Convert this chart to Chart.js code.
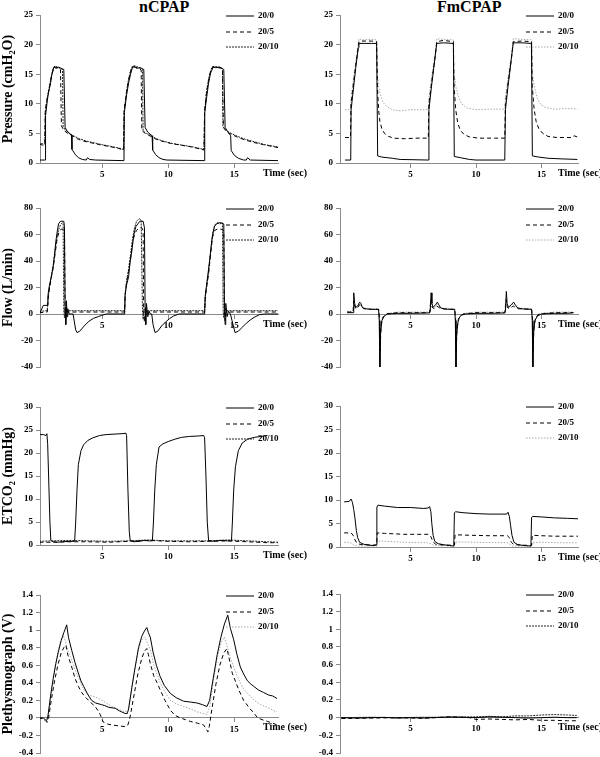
<!DOCTYPE html>
<html>
<head>
<meta charset="utf-8">
<script src="https://cdn.jsdelivr.net/npm/chart.js@4.4.1/dist/chart.umd.min.js"></script>
<style>
  body { margin: 0; background: #fff; width: 600px; height: 757px; overflow: hidden; position: relative; font-family: "Liberation Serif", serif; }
  canvas { position: absolute; }
  .ttl { position: absolute; top: -2px; font-weight: bold; font-size: 16px; }
</style>
</head>
<body>
<div class="ttl" style="left:139px">nCPAP</div>
<div class="ttl" style="left:437px">FmCPAP</div>
<canvas id="pressN"></canvas>
<canvas id="pressF"></canvas>
<canvas id="flowN"></canvas>
<canvas id="flowF"></canvas>
<canvas id="co2N"></canvas>
<canvas id="co2F"></canvas>
<canvas id="plethN"></canvas>
<canvas id="plethF"></canvas>
<script>
// series labels and tick values
const seriesLabels = ['20/0', '20/5', '20/10'];
const timeTicks = [5, 10, 15];
const pressureTicks = [0, 5, 10, 15, 20, 25];
const flowTicks = [-40, -20, 0, 20, 40, 60, 80];
const co2Ticks = [0, 5, 10, 15, 20, 25, 30];
const plethTicks = [-0.4, -0.2, 0, 0.2, 0.4, 0.6, 0.8, 1, 1.2, 1.4];

// [time (sec), value]
const pressN_0 = [[0.2,0.5],[0.68,0.5],[0.72,8],[0.85,10.5],[0.95,12],[1.1,13.5],[1.2,15],[1.35,16.2],[1.5,16],[1.7,16.2],[1.9,16],[2.1,15.8],[2.2,6],[2.35,5.4],[2.5,5],[2.68,4.7],[2.72,2.3],[2.95,1.5],[3.2,0.9],[3.5,0.6],[3.8,0.5],[3.9,0.9],[4.05,0.6],[4.5,0.5],[6.65,0.4],[6.68,8.5],[6.85,11.5],[7.0,13.5],[7.15,15],[7.3,16.2],[7.45,16.3],[7.6,16],[7.9,16.1],[8.15,15.8],[8.25,6],[8.45,5.2],[8.78,4.6],[8.82,2.2],[9.05,1.4],[9.3,0.9],[9.6,0.6],[9.9,0.5],[12.73,0.4],[12.76,8.5],[12.9,11],[13.05,13.5],[13.2,15.2],[13.4,16.2],[13.6,16.1],[13.9,16.2],[14.2,15.8],[14.3,6],[14.5,5.3],[14.72,4.6],[14.76,2.1],[15.0,1.3],[15.3,0.8],[15.7,0.5],[15.9,0.5],[16.0,0.9],[16.2,0.5],[18.3,0.4]];
const pressN_5 = [[0.2,2],[0.28,3.2],[0.5,3],[0.66,3.1],[0.7,9],[0.85,11],[1.0,12.5],[1.15,14.5],[1.3,15.8],[1.4,16.3],[1.6,16],[1.85,15.8],[1.92,6.3],[2.1,5.5],[2.4,5],[2.8,4.5],[3.2,4],[3.6,3.7],[4.2,3.4],[4.8,3.1],[5.5,2.8],[6.2,2.5],[6.62,2.2],[6.66,9],[6.85,12],[7.0,14],[7.15,15.5],[7.3,16.2],[7.5,16.2],[7.8,16],[7.95,15.7],[8.0,5.5],[8.25,5],[8.6,4.6],[9.0,4.1],[9.5,3.7],[10.2,3.3],[11.0,3],[11.8,2.7],[12.7,2.2],[12.75,9],[12.9,12],[13.05,14],[13.2,15.5],[13.35,16.2],[13.6,16.2],[14.0,16],[14.1,15.7],[14.17,6],[14.4,5.3],[14.8,4.8],[15.3,4.3],[15.8,3.9],[16.4,3.5],[17.2,3.1],[18.3,2.6]];
const pressN_10 = [[0.2,2.5],[0.3,3.3],[0.66,3.2],[0.7,8.5],[0.85,11],[1.0,12.8],[1.15,14.6],[1.3,16],[1.45,16.4],[1.7,16.1],[2.0,15.8],[2.05,6.2],[2.2,5.6],[2.5,5.1],[2.9,4.5],[3.3,4.1],[3.8,3.7],[4.4,3.4],[5.0,3.1],[5.7,2.8],[6.3,2.5],[6.62,2.3],[6.66,8.5],[6.85,12.2],[7.0,14.2],[7.15,15.6],[7.3,16.4],[7.5,16.4],[7.8,16.1],[8.05,15.8],[8.1,5.4],[8.35,5],[8.7,4.6],[9.1,4.1],[9.6,3.7],[10.3,3.3],[11.1,3],[11.9,2.7],[12.7,2.3],[12.75,8.5],[12.9,12.2],[13.05,14.2],[13.2,15.6],[13.35,16.3],[13.6,16.3],[14.0,16.1],[14.1,15.8],[14.14,6.2],[14.4,5.4],[14.85,4.9],[15.35,4.4],[15.85,4],[16.5,3.6],[17.3,3.1],[18.3,2.7]];

const pressF_0 = [[-0.02,0.5],[0.42,0.5],[0.45,9],[0.6,12],[0.8,16],[1.0,19.5],[1.05,20.2],[1.5,20.2],[2.0,20.2],[2.4,20.2],[2.48,1.2],[2.8,1],[3.2,0.9],[3.6,0.8],[4.2,0.6],[6.36,0.5],[6.4,9],[6.6,13],[6.85,17.5],[7.0,20.2],[7.5,20.3],[8.27,20.2],[8.34,1.1],[8.8,0.9],[9.5,0.6],[10.0,0.5],[12.2,0.5],[12.25,9],[12.45,13],[12.7,17.5],[12.85,20.3],[13.5,20.3],[14.24,20.2],[14.31,1.2],[14.8,1],[15.5,0.8],[16.5,0.7],[17.75,0.6]];
const pressF_5 = [[-0.02,4.3],[0.4,4.3],[0.44,10],[0.6,13],[0.8,16.5],[1.05,20.5],[1.2,20.6],[2.0,20.6],[2.4,20.5],[2.46,13],[2.55,9],[2.65,7],[2.8,5.8],[3.0,5],[3.3,4.5],[3.7,4.2],[4.5,4.1],[5.5,4.2],[6.35,4.2],[6.4,10],[6.6,13.5],[6.85,17.5],[7.0,20.5],[7.5,20.7],[8.27,20.5],[8.32,13],[8.45,9],[8.6,6.8],[8.8,5.5],[9.1,4.8],[9.5,4.4],[10.2,4.2],[11.5,4.2],[12.2,4.2],[12.25,10],[12.45,13.5],[12.7,17.5],[12.85,20.5],[13.5,20.6],[14.25,20.5],[14.3,13],[14.45,9],[14.6,7],[14.8,5.8],[15.1,5],[15.5,4.5],[16.2,4.3],[17.3,4.3],[17.5,4.6],[17.75,4.4]];
const pressF_10 = [[-0.02,9],[0.4,9],[0.45,11],[0.62,14],[0.8,17],[1.05,21],[1.3,20.8],[2.0,20.9],[2.4,20.8],[2.46,15],[2.55,13],[2.7,11.5],[2.9,10.2],[3.2,9.5],[3.6,9],[4.2,8.8],[5.0,9],[6.35,9],[6.4,11],[6.6,14.5],[6.85,18],[7.0,21],[7.5,20.9],[8.27,20.8],[8.32,15.5],[8.45,13],[8.65,11.2],[8.9,10],[9.3,9.3],[10,9],[11,9.1],[12.2,9.1],[12.25,11],[12.45,14.5],[12.7,18],[12.85,21],[13.5,20.9],[14.25,20.8],[14.3,15.5],[14.45,13],[14.65,11.2],[14.9,10],[15.3,9.4],[16,9.1],[17,9.2],[17.75,9.1]];

const flowN_0 = [[0.25,0],[0.4,3],[0.55,6.5],[0.85,6.5],[0.9,14],[1.0,21],[1.15,28],[1.3,36],[1.4,45],[1.5,55],[1.6,62],[1.7,68],[1.85,70],[2.1,70],[2.15,66],[2.2,5],[2.25,-8],[2.3,10],[2.35,-2],[2.4,4],[2.5,0],[2.8,0],[2.9,-6],[3.0,-12],[3.1,-14],[3.3,-13],[3.71,-8.3],[4.0,-5.5],[4.34,-3.3],[4.7,-2],[4.97,-1],[5.3,0],[6.7,0],[6.74,15],[6.85,22],[7.0,28],[7.1,38],[7.25,48],[7.4,60],[7.55,66],[7.7,68],[7.85,70],[8.1,70],[8.2,65],[8.25,5],[8.3,-8],[8.35,8],[8.45,-2],[8.55,2],[8.65,0],[8.75,0],[8.85,-8],[9.0,-14],[9.2,-13],[9.5,-9],[9.8,-6],[10.1,-3.5],[10.4,-1.5],[10.8,0],[12.75,0],[12.8,14],[12.9,22],[13.0,30],[13.15,42],[13.3,56],[13.4,62],[13.5,66],[13.65,68],[13.9,69],[14.2,68],[14.25,5],[14.3,-8],[14.35,8],[14.45,-2],[14.55,2],[14.7,0],[14.85,-6],[15.05,-14],[15.3,-13],[15.6,-10],[15.9,-7],[16.2,-4.5],[16.5,-2.5],[16.9,-0.5],[17.3,0],[18.3,0]];
const flowN_5 = [[0.25,1],[0.85,1.5],[0.9,10],[1.0,18],[1.15,27],[1.3,35],[1.45,46],[1.6,57],[1.75,62],[1.9,64],[2.15,64],[2.2,2],[2.25,-5],[2.3,5],[2.4,1.5],[6.7,1.5],[6.74,14],[6.85,24],[7.0,32],[7.15,42],[7.3,54],[7.45,60],[7.6,63],[7.8,65],[8.0,65],[8.1,63],[8.14,2],[8.2,-6],[8.27,4],[8.35,1.5],[12.75,1.5],[12.8,12],[12.9,20],[13.05,30],[13.2,45],[13.35,58],[13.5,63],[13.7,64],[14.0,64],[14.2,63],[14.24,2],[14.3,-5],[14.35,4],[14.45,1.5],[18.3,1.5]];
const flowN_10 = [[0.25,2],[0.85,2.5],[0.9,11],[1.0,19],[1.15,28],[1.3,37],[1.45,48],[1.6,59],[1.75,65],[1.9,68],[2.0,69],[2.05,68],[2.1,2.5],[2.15,-3],[2.2,5],[2.3,2.5],[6.7,2.5],[6.74,15],[6.85,25],[7.0,34],[7.15,45],[7.3,57],[7.45,65],[7.6,70],[7.8,72],[7.95,71],[8.05,2.5],[8.1,-4],[8.17,4],[8.25,2.5],[12.75,2.5],[12.8,13],[12.9,21],[13.05,32],[13.2,47],[13.35,60],[13.5,67],[13.7,69],[13.9,68],[14.1,69],[14.15,2.5],[14.2,-3],[14.25,4],[14.35,2.5],[18.3,2.5]];

const flowF_0 = [[0.15,1],[0.6,1],[0.65,16],[0.72,8],[0.8,5],[0.95,6],[1.1,9],[1.2,8],[1.3,5],[1.5,4],[2.0,3.5],[2.55,3.5],[2.6,-5],[2.65,-40],[2.7,-15],[2.8,-5],[2.95,-2],[3.2,0],[4.0,0.5],[5.0,0.5],[6.45,0.8],[6.5,2],[6.57,16],[6.63,8],[6.72,5],[6.9,7],[7.05,9],[7.15,7],[7.3,4.5],[7.6,3.8],[8.0,3.5],[8.37,3.5],[8.42,-5],[8.47,-40],[8.52,-15],[8.65,-4],[8.85,-1],[9.2,0],[10,0.5],[11,0.5],[12.2,0.8],[12.25,2],[12.32,17],[12.38,8],[12.48,5],[12.7,7],[12.88,9],[13.0,7],[13.2,4.5],[13.6,3.8],[14.25,3.5],[14.3,-5],[14.35,-40],[14.4,-15],[14.5,-5],[14.7,-1.5],[15.0,0],[16,0.5],[17,0.5],[17.45,1]];
const flowF_5 = [[0.15,1.5],[0.6,1.5],[0.65,10],[0.75,5],[0.9,4],[1.1,7],[1.25,6],[1.4,4],[2.0,3.5],[2.55,3.5],[2.62,-3],[2.67,-28],[2.73,-10],[2.85,-3],[3.1,0],[4,1],[5,1],[6.45,1],[6.55,11],[6.65,5],[6.8,4],[7.0,6],[7.15,5],[7.35,4],[8.0,3.5],[8.37,3.5],[8.44,-3],[8.49,-28],[8.55,-10],[8.7,-3],[9.0,0],[10,1],[12.2,1],[12.3,11],[12.4,5],[12.55,4],[12.85,6],[13.0,5],[13.2,4],[14.25,3.5],[14.32,-3],[14.37,-28],[14.43,-10],[14.55,-3],[14.8,0],[16,1],[17.45,1]];
const flowF_10 = [[0.15,2],[0.6,2],[0.65,8],[0.75,4],[0.95,5],[1.15,8],[1.3,6],[1.5,4.5],[2.0,4],[2.55,4],[2.62,-2],[2.68,-22],[2.75,-8],[2.9,-2],[3.2,0.5],[4,1.5],[5,1.5],[6.45,1.5],[6.55,9],[6.65,5],[6.85,5],[7.05,8],[7.2,6],[7.4,4.5],[8.37,4],[8.44,-2],[8.5,-22],[8.57,-8],[8.75,-2],[9.1,0.5],[10,1.5],[12.2,1.5],[12.3,9],[12.4,5],[12.6,5],[12.85,8],[13.0,6],[13.2,4.5],[14.25,4],[14.32,-2],[14.38,-22],[14.45,-8],[14.6,-2],[14.9,0.5],[16,1.5],[17.45,1.5]];

const co2N_0 = [[0.25,24],[0.55,24],[0.75,23.8],[0.82,24.2],[0.88,22],[0.95,15],[1.05,5],[1.12,1],[1.3,0.7],[1.6,0.6],[2.0,0.7],[2.5,0.8],[2.92,0.8],[3.0,5],[3.1,12],[3.2,17.5],[3.4,20.5],[3.6,21.8],[3.9,22.7],[4.3,23.3],[4.8,23.8],[5.3,24],[5.9,24.1],[6.5,24.2],[6.8,24.3],[6.85,23.8],[6.95,12],[7.05,3],[7.12,1],[7.4,0.7],[7.8,0.8],[8.2,1],[8.5,0.9],[8.8,0.9],[8.88,5],[8.98,12],[9.1,17.5],[9.3,21.3],[9.6,22],[10.0,22.5],[10.5,23],[11.0,23.4],[11.6,23.6],[12.3,23.7],[12.68,23.8],[12.75,23.3],[12.85,15],[12.95,5],[13.05,1],[13.4,0.8],[14.0,1],[14.5,0.9],[14.78,0.9],[14.85,5],[14.95,12],[15.08,17],[15.3,20.5],[15.6,22.2],[16.0,23],[16.5,23.4],[17.0,23.6],[17.5,23.8]];
const co2N_5 = [[0.25,0.6],[1.2,0.6],[2.5,0.7],[4.0,0.7],[5.5,0.6],[7,0.8],[8.5,1],[10,0.8],[11.5,0.7],[13,0.8],[14.5,0.9],[16,0.7],[17.5,0.5],[18.3,0.5]];
const co2N_10 = [[0.25,0.8],[1.2,0.9],[2.5,1.0],[4,0.9],[5.5,0.8],[7,0.9],[8.5,1.1],[10,0.9],[11.5,0.9],[13,0.9],[14.5,1.1],[16,0.9],[17.5,0.7],[18.3,0.6]];

const co2F_0 = [[-0.08,9.6],[0.3,9.7],[0.45,10.2],[0.55,9.5],[0.65,8],[0.75,6],[0.85,3.5],[0.95,2],[1.1,1],[1.4,0.6],[1.8,0.4],[2.2,0.3],[2.38,0.5],[2.42,8.5],[2.5,8.9],[3.0,8.7],[4.0,8.4],[5.0,8.4],[6.0,8.2],[6.35,8.3],[6.45,8.6],[6.55,7.5],[6.62,5],[6.72,2.5],[6.85,1.2],[7.1,0.7],[7.5,0.5],[8.0,0.3],[8.3,0.2],[8.35,7.3],[8.45,7.5],[9.0,7.3],[10,7.1],[11,7.0],[12.0,7.0],[12.35,7.0],[12.45,7.4],[12.55,6.5],[12.65,4.5],[12.75,2.5],[12.9,1],[13.2,0.5],[13.7,0.3],[14.2,0.2],[14.25,6.3],[14.35,6.5],[15,6.4],[16,6.2],[17,6.1],[17.8,6.0]];
const co2F_5 = [[-0.08,3],[0.45,3],[0.6,2.5],[0.75,1.5],[0.9,0.8],[1.2,0.5],[2.4,0.4],[2.45,3],[3,2.9],[4.5,2.7],[6.4,2.7],[6.55,2.2],[6.7,1.2],[6.9,0.6],[7.5,0.4],[8.35,0.4],[8.4,2.6],[9.5,2.5],[11,2.4],[12.4,2.4],[12.55,2],[12.7,1],[12.9,0.5],[14.25,0.3],[14.3,2.5],[15,2.4],[16,2.3],[17.8,2.3]];
const co2F_10 = [[-0.08,1],[0.35,1],[0.5,0.7],[0.7,0.3],[1.0,0.2],[2.4,0.2],[2.45,1.0],[2.7,1.3],[3.2,1.2],[4.5,1.0],[6.3,0.9],[6.6,0.6],[6.8,0.3],[8.35,0.2],[8.4,1.0],[8.7,1.1],[10,1.0],[12.4,0.9],[12.6,0.6],[12.8,0.2],[14.25,0.2],[14.3,0.9],[15,1.0],[16.5,0.9],[17.8,0.9]];

const plethN_0 = [[0.18,0],[0.55,0],[0.7,-0.02],[0.8,-0.03],[0.9,0.02],[1.1,0.25],[1.3,0.45],[1.5,0.62],[1.7,0.76],[1.9,0.88],[2.1,0.97],[2.32,1.06],[2.45,0.92],[2.7,0.77],[2.95,0.63],[3.2,0.51],[3.4,0.42],[3.6,0.36],[3.9,0.27],[4.2,0.2],[4.5,0.17],[4.97,0.15],[5.2,0.14],[5.5,0.12],[5.98,0.11],[6.3,0.08],[6.74,0.05],[6.9,0.05],[7.0,0.1],[7.25,0.35],[7.5,0.58],[7.75,0.8],[8.0,0.93],[8.2,0.99],[8.38,1.03],[8.5,0.97],[8.64,0.92],[8.85,0.75],[9.1,0.6],[9.39,0.47],[9.7,0.37],[10.15,0.28],[10.6,0.23],[11.16,0.19],[11.7,0.18],[12.17,0.17],[12.6,0.15],[12.93,0.13],[13.13,0.2],[13.4,0.45],[13.7,0.72],[14.0,0.93],[14.25,1.07],[14.5,1.17],[14.7,1.02],[14.95,0.89],[15.2,0.72],[15.45,0.58],[15.7,0.5],[15.96,0.43],[16.2,0.39],[16.46,0.36],[16.8,0.32],[17.2,0.29],[17.6,0.26],[17.9,0.25],[18.23,0.22]];
const plethN_5 = [[0.18,0],[0.55,-0.01],[0.75,-0.04],[0.85,-0.05],[0.95,0],[1.15,0.2],[1.4,0.42],[1.65,0.6],[1.9,0.74],[2.1,0.8],[2.26,0.83],[2.4,0.72],[2.7,0.58],[2.95,0.45],[3.2,0.36],[3.45,0.29],[3.71,0.24],[4.1,0.18],[4.47,0.13],[4.7,0.08],[4.85,0.04],[5.0,-0.02],[5.1,-0.05],[5.4,-0.07],[5.73,-0.08],[6.2,-0.09],[6.74,-0.1],[6.95,-0.08],[7.1,0.0],[7.4,0.25],[7.7,0.5],[8.0,0.68],[8.2,0.76],[8.38,0.79],[8.5,0.72],[8.64,0.62],[8.9,0.48],[9.15,0.4],[9.39,0.32],[9.75,0.2],[10.15,0.09],[10.5,0.03],[10.9,0],[11.3,-0.02],[11.66,-0.04],[12.2,-0.06],[12.67,-0.08],[12.85,-0.12],[13.0,-0.16],[13.1,-0.1],[13.3,0.1],[13.6,0.38],[13.9,0.6],[14.2,0.74],[14.44,0.79],[14.6,0.68],[14.84,0.51],[15.1,0.41],[15.33,0.32],[15.7,0.2],[16.1,0.12],[16.5,0.05],[16.76,0],[17.1,-0.02],[17.5,-0.04],[17.9,-0.06],[18.23,-0.08]];
const plethN_10 = [[0.18,0],[0.55,0],[0.75,-0.03],[0.85,-0.04],[0.95,0.05],[1.15,0.3],[1.4,0.55],[1.65,0.75],[1.85,0.88],[2.07,0.94],[2.2,0.88],[2.45,0.75],[2.7,0.66],[2.95,0.55],[3.2,0.46],[3.45,0.37],[3.71,0.3],[4.0,0.26],[4.47,0.24],[4.97,0.2],[5.3,0.17],[5.73,0.13],[6.2,0.1],[6.74,0.07],[6.95,0.08],[7.1,0.2],[7.4,0.5],[7.7,0.74],[7.95,0.88],[8.2,0.92],[8.35,0.88],[8.64,0.78],[8.9,0.6],[9.39,0.4],[9.8,0.28],[10.15,0.2],[10.6,0.16],[11.16,0.13],[11.7,0.1],[12.17,0.07],[12.6,0.05],[12.93,0.04],[13.13,0.12],[13.4,0.4],[13.7,0.68],[14.0,0.86],[14.24,0.92],[14.45,0.82],[14.7,0.68],[14.95,0.58],[15.2,0.48],[15.45,0.4],[15.7,0.33],[16.1,0.26],[16.5,0.2],[17.0,0.15],[17.5,0.12],[18.0,0.08],[18.23,0.07]];

const plethF_0 = [[-0.3,0],[1,-0.005],[2,0],[3,0.003],[4,-0.005],[5,0],[6,-0.004],[7,0.002],[8,0.008],[9,0.005],[10,0],[11,0.01],[12,0.005],[13,0],[14,-0.005],[15,0],[16,0.005],[17,0],[17.7,0]];
const plethF_5 = [[-0.3,-0.01],[2,-0.005],[4,0],[6,-0.008],[8,0.01],[9.5,0],[10,-0.02],[11,-0.015],[12,-0.02],[13,-0.025],[14,-0.02],[15,-0.03],[16,-0.03],[17,-0.035],[17.7,-0.035]];
const plethF_10 = [[-0.3,0],[2,0.005],[4,0],[6,0.005],[8,0.005],[10,0.01],[11,0.015],[12,0.01],[13,0.02],[14,0.02],[15,0.03],[16,0.035],[17,0.03],[17.7,0.025]];

const FONT = '"Liberation Serif", "Times New Roman", serif';
const AXIS_GRAY = '#8a8a8a';
const DARK_DOT = { color: '#222', dash: [2, 1] };
const LIGHT_DOT = { color: '#a8a8a8', dash: [1.5, 1.5] };

const cornerLegend = {
  id: 'cornerLegend',
  afterDraw(chart, args, opts) {
    const { ctx, chartArea } = chart;
    ctx.save();
    ctx.textBaseline = 'middle';
    ctx.font = 'bold 9px ' + FONT;
    chart.data.datasets.forEach((ds, i) => {
      const y = chartArea.top + 1 + [0, 16, 31][i];
      ctx.strokeStyle = ds.borderColor;
      ctx.lineWidth = 1;
      ctx.setLineDash(ds.borderDash || []);
      ctx.beginPath();
      ctx.moveTo(chartArea.right - 52, y);
      ctx.lineTo(chartArea.right - 24, y);
      ctx.stroke();
      ctx.fillStyle = '#000';
      ctx.fillText(ds.label, chartArea.right - 20, y);
    });
    const y0 = chart.scales.y.getPixelForValue(0);
    ctx.font = 'bold 10px ' + FONT;
    ctx.fillText('Time (sec)', chartArea.right - opts.timeOffset, y0 + 10);
    ctx.restore();
  }
};

function makeChart(id, box, cfg) {
  const el = document.getElementById(id);
  el.width = box.w; el.height = box.h;
  el.style.left = box.left + 'px'; el.style.top = box.top + 'px';
  const styles = [{ color: '#000', dash: [] }, { color: '#000', dash: [4, 3] }, cfg.dot];
  const datasets = cfg.series.map((pts, i) => ({
    label: seriesLabels[i],
    data: pts.map(([x, y]) => ({ x, y })),
    borderColor: styles[i].color,
    borderDash: styles[i].dash,
    borderWidth: 1,
    pointRadius: 0,
    tension: 0
  }));
  const tickFont = { family: FONT, size: 9, weight: 'bold' };
  return new Chart(el, {
    type: 'line',
    data: { datasets },
    plugins: [cornerLegend],
    options: {
      responsive: false,
      animation: false,
      layout: { padding: { top: 10, bottom: 25, left: 0, right: box.padR } },
      plugins: { legend: { display: false }, tooltip: { enabled: false }, cornerLegend: { timeOffset: box.timeOffset } },
      scales: {
        x: {
          type: 'linear', min: cfg.xMin, max: cfg.xMax, position: { y: 0 },
          afterBuildTicks: s => { s.ticks = timeTicks.map(v => ({ value: v })); },
          grid: { drawOnChartArea: false, tickLength: 4, color: AXIS_GRAY },
          border: { color: AXIS_GRAY },
          ticks: { font: tickFont, color: '#000', padding: 2, maxRotation: 0, autoSkip: false, callback: v => String(v) }
        },
        y: {
          min: cfg.ticks[0], max: cfg.ticks[cfg.ticks.length - 1],
          afterBuildTicks: s => { s.ticks = cfg.ticks.map(v => ({ value: v })); },
          afterFit: s => { s.width = 40; },
          grid: { drawOnChartArea: false, tickLength: 4, color: AXIS_GRAY },
          border: { color: AXIS_GRAY },
          ticks: { font: tickFont, color: '#000', padding: 3, autoSkip: false, callback: v => String(v) },
          title: { display: !!cfg.yTitle, text: cfg.yTitle, color: '#000', padding: 0, font: { family: FONT, size: 14, weight: 'bold' } }
        }
      }
    }
  });
}

const LEFT = { left: 0, w: 330, padR: 52, timeOffset: 15 };
const RIGHT = { left: 300, w: 300, padR: 22, timeOffset: 20 };
const N_RANGE = { xMin: 0.3, xMax: 18.3 };
const F_RANGE = { xMin: -0.4, xMax: 17.8 };

makeChart('pressN', { ...LEFT, top: 5, h: 183 }, { ...N_RANGE, ticks: pressureTicks, yTitle: 'Pressure (cmH₂O)', series: [pressN_0, pressN_5, pressN_10], dot: DARK_DOT });
makeChart('pressF', { ...RIGHT, top: 5, h: 183 }, { ...F_RANGE, ticks: pressureTicks, yTitle: '', series: [pressF_0, pressF_5, pressF_10], dot: LIGHT_DOT });
makeChart('flowN', { ...LEFT, top: 198, h: 194 }, { ...N_RANGE, ticks: flowTicks, yTitle: 'Flow (L/min)', series: [flowN_0, flowN_5, flowN_10], dot: DARK_DOT });
makeChart('flowF', { ...RIGHT, top: 198, h: 194 }, { ...F_RANGE, ticks: flowTicks, yTitle: '', series: [flowF_0, flowF_5, flowF_10], dot: LIGHT_DOT });
makeChart('co2N', { ...LEFT, top: 397, h: 173 }, { ...N_RANGE, ticks: co2Ticks, yTitle: 'ETCO₂ (mmHg)', series: [co2N_0, co2N_5, co2N_10], dot: DARK_DOT });
makeChart('co2F', { ...RIGHT, top: 396, h: 176 }, { ...F_RANGE, ticks: co2Ticks, yTitle: '', series: [co2F_0, co2F_5, co2F_10], dot: LIGHT_DOT });
makeChart('plethN', { ...LEFT, top: 585, h: 193 }, { ...N_RANGE, ticks: plethTicks, yTitle: 'Plethysmograph (V)', series: [plethN_0, plethN_5, plethN_10], dot: LIGHT_DOT });
makeChart('plethF', { ...RIGHT, top: 584, h: 194 }, { ...F_RANGE, ticks: plethTicks, yTitle: '', series: [plethF_0, plethF_5, plethF_10], dot: DARK_DOT });
</script>
</body>
</html>
